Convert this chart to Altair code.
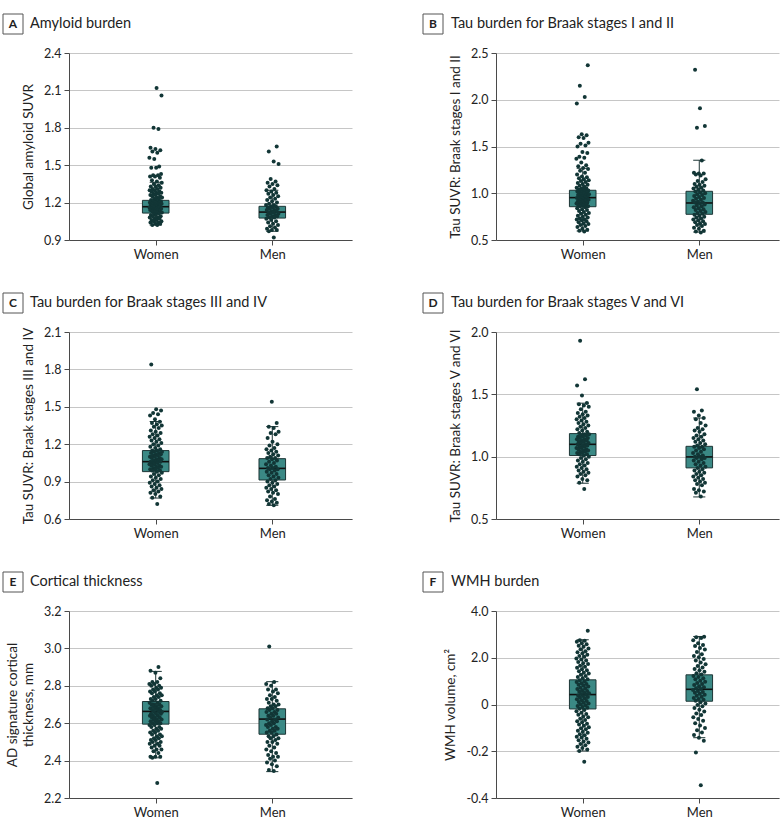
import altair as alt
import pandas as pd

# ---------------- data ----------------
categories = ["Women", "Men"]
letters = ["A", "B", "C", "D", "E", "F"]
titles = [
    "Amyloid burden",
    "Tau burden for Braak stages I and II",
    "Tau burden for Braak stages III and IV",
    "Tau burden for Braak stages V and VI",
    "Cortical thickness",
    "WMH burden",
]
y_titles = [
    "Global amyloid SUVR",
    "Tau SUVR: Braak stages I and II",
    "Tau SUVR: Braak stages III and IV",
    "Tau SUVR: Braak stages V and VI",
    ["AD signature cortical", "thickness, mm"],
    "WMH volume, cm²",
]
y_domains = [[0.9, 2.4], [0.5, 2.5], [0.6, 2.1], [0.5, 2.0], [2.2, 3.2], [-4, 4]]
y_ticks = [
    [0.9, 1.2, 1.5, 1.8, 2.1, 2.4],
    [0.5, 1.0, 1.5, 2.0, 2.5],
    [0.6, 0.9, 1.2, 1.5, 1.8, 2.1],
    [0.5, 1.0, 1.5, 2.0],
    [2.2, 2.4, 2.6, 2.8, 3.0, 3.2],
    [-4, -2, 0, 2, 4],
]
f_tick_labels = ["-0.4", "-0.2", "0", "2.0", "4.0"]

# box stats: [lower whisker, Q1, median, Q3, upper whisker]
a_stats_women = [1.02, 1.116, 1.167, 1.218, 1.363]
a_stats_men = [0.97, 1.076, 1.124, 1.170, 1.299]
b_stats_women = [0.596, 0.856, 0.953, 1.032, 1.267]
b_stats_men = [0.585, 0.775, 0.896, 1.021, 1.353]
c_stats_women = [0.768, 0.980, 1.060, 1.149, 1.382]
c_stats_men = [0.710, 0.913, 1.006, 1.084, 1.341]
d_stats_women = [0.787, 1.009, 1.099, 1.185, 1.429]
d_stats_men = [0.677, 0.910, 0.998, 1.083, 1.310]
e_stats_women = [2.415, 2.595, 2.663, 2.716, 2.877]
e_stats_men = [2.341, 2.541, 2.622, 2.677, 2.822]
f_stats_women = [-1.99, -0.19, 0.425, 1.056, 2.77]
f_stats_men = [-1.42, 0.14, 0.65, 1.27, 2.91]

a_women = [2.12, 2.06, 1.80, 1.79, 1.64, 1.63, 1.62, 1.61, 1.60, 1.56, 1.55, 1.49, 1.48, 1.48,
           1.43, 1.42, 1.42, 1.41, 1.41, 1.40, 1.38, 1.37,
           1.36, 1.35, 1.34, 1.33, 1.33, 1.32, 1.31, 1.31, 1.30, 1.30, 1.29, 1.29, 1.28, 1.28,
           1.27, 1.27, 1.26, 1.26, 1.25, 1.25, 1.24, 1.24, 1.23, 1.23, 1.22,
           1.22, 1.21, 1.21, 1.21, 1.20, 1.20, 1.20, 1.19, 1.19, 1.19, 1.18, 1.18, 1.18, 1.17,
           1.17, 1.17, 1.17, 1.16, 1.16, 1.16, 1.15, 1.15, 1.15, 1.14, 1.14, 1.14, 1.13, 1.13,
           1.13, 1.12, 1.12, 1.11, 1.11, 1.10, 1.10, 1.09, 1.09, 1.08, 1.08, 1.07, 1.07, 1.06,
           1.06, 1.05, 1.05, 1.04, 1.04, 1.03, 1.03, 1.02, 1.02]
a_men = [1.65, 1.61, 1.53, 1.51, 1.39, 1.37, 1.36, 1.35, 1.34, 1.33, 1.31, 1.30,
         1.29, 1.28, 1.27, 1.26, 1.25, 1.24, 1.23, 1.22, 1.21, 1.20, 1.19, 1.18, 1.18,
         1.17, 1.17, 1.16, 1.16, 1.15, 1.15, 1.14, 1.14, 1.13, 1.13, 1.12, 1.12, 1.11, 1.11,
         1.10, 1.10, 1.09, 1.09, 1.08, 1.08, 1.07, 1.06, 1.05, 1.04, 1.03, 1.02, 1.01, 1.00,
         0.99, 0.98, 0.98, 0.97, 0.92]
b_women = [2.37, 2.15, 2.03, 1.96, 1.63, 1.62, 1.60, 1.59, 1.54, 1.53, 1.51, 1.50, 1.44, 1.43,
           1.39, 1.38, 1.37, 1.33, 1.30, 1.29, 1.27,
           1.26, 1.24, 1.22, 1.20, 1.18, 1.17, 1.16, 1.15, 1.14, 1.13, 1.12, 1.11, 1.10, 1.09,
           1.08, 1.07, 1.06, 1.05, 1.05, 1.04, 1.04, 1.03,
           1.03, 1.02, 1.02, 1.01, 1.01, 1.00, 1.00, 0.99, 0.99, 0.98, 0.98, 0.97, 0.97, 0.96,
           0.96, 0.95, 0.95, 0.94, 0.94, 0.93, 0.93, 0.92, 0.92, 0.91, 0.91, 0.90, 0.90, 0.89,
           0.89, 0.88, 0.88, 0.87, 0.87, 0.86, 0.86,
           0.85, 0.84, 0.83, 0.82, 0.81, 0.80, 0.79, 0.78, 0.77, 0.76, 0.75, 0.74, 0.73, 0.72,
           0.72, 0.71, 0.70, 0.69, 0.68, 0.67, 0.66, 0.65, 0.64, 0.62, 0.61, 0.60, 0.59]
b_men = [2.32, 1.91, 1.72, 1.70,
         1.35, 1.22, 1.21, 1.21, 1.20, 1.19, 1.15, 1.13, 1.12, 1.10, 1.09, 1.08, 1.07, 1.06,
         1.05, 1.04, 1.03, 1.02,
         1.01, 1.00, 0.99, 0.98, 0.97, 0.96, 0.95, 0.94, 0.93, 0.92, 0.91, 0.90, 0.90, 0.89,
         0.88, 0.87, 0.86, 0.85, 0.84, 0.83, 0.82, 0.81, 0.80, 0.79, 0.78,
         0.77, 0.76, 0.75, 0.74, 0.73, 0.72, 0.71, 0.70, 0.69, 0.68, 0.67, 0.66, 0.65, 0.63,
         0.62, 0.60, 0.59, 0.58]
c_women = [1.84, 1.48, 1.47, 1.45, 1.44, 1.43, 1.40, 0.72,
           1.38, 1.37, 1.36, 1.35, 1.34, 1.33, 1.31, 1.30, 1.29, 1.28, 1.27, 1.26, 1.25, 1.24,
           1.23, 1.22, 1.21, 1.20, 1.19, 1.18, 1.17, 1.16, 1.15,
           1.15, 1.14, 1.14, 1.13, 1.13, 1.12, 1.12, 1.11, 1.11, 1.10, 1.10, 1.09, 1.09, 1.08,
           1.08, 1.07, 1.07, 1.06, 1.06, 1.06, 1.05, 1.05, 1.04, 1.04, 1.03, 1.03, 1.02, 1.02,
           1.01, 1.01, 1.00, 1.00, 0.99, 0.99, 0.98,
           0.97, 0.96, 0.95, 0.94, 0.93, 0.92, 0.91, 0.90, 0.89, 0.88, 0.87, 0.86, 0.85, 0.84,
           0.83, 0.82, 0.81, 0.80, 0.78, 0.77]
c_men = [1.54, 1.37,
         1.34, 1.33, 1.30, 1.29, 1.28, 1.25, 1.22, 1.20, 1.19, 1.17, 1.16, 1.15, 1.14, 1.13,
         1.12, 1.11, 1.10, 1.09,
         1.09, 1.08, 1.07, 1.06, 1.05, 1.04, 1.03, 1.02, 1.01, 1.01, 1.00, 1.00, 0.99, 0.98,
         0.97, 0.96, 0.95, 0.94, 0.93, 0.92,
         0.91, 0.90, 0.89, 0.88, 0.87, 0.86, 0.85, 0.84, 0.83, 0.82, 0.81, 0.80, 0.78, 0.76,
         0.75, 0.74, 0.73, 0.72, 0.71]
d_women = [1.93, 1.62, 1.57, 1.49, 0.74,
           1.43, 1.42, 1.41, 1.40, 1.38, 1.36, 1.35, 1.34, 1.33, 1.32, 1.31, 1.30, 1.29, 1.28,
           1.27, 1.26, 1.25, 1.24, 1.23, 1.22, 1.21, 1.20, 1.19, 1.18,
           1.18, 1.17, 1.17, 1.16, 1.16, 1.15, 1.15, 1.14, 1.14, 1.13, 1.13, 1.12, 1.12, 1.11,
           1.11, 1.10, 1.10, 1.09, 1.09, 1.08, 1.08, 1.07, 1.07, 1.06, 1.06, 1.05, 1.05, 1.04,
           1.04, 1.03, 1.03, 1.02, 1.02, 1.01,
           1.00, 0.99, 0.98, 0.97, 0.96, 0.95, 0.94, 0.93, 0.92, 0.91, 0.90, 0.89, 0.88, 0.87,
           0.86, 0.85, 0.84, 0.82, 0.81, 0.79]
d_men = [1.54, 1.37, 1.36, 1.33,
         1.31, 1.30, 1.27, 1.25, 1.23, 1.22, 1.21, 1.20, 1.18, 1.17, 1.16, 1.15, 1.14, 1.13,
         1.12, 1.11, 1.10, 1.09, 1.08,
         1.08, 1.07, 1.06, 1.05, 1.04, 1.03, 1.02, 1.01, 1.00, 1.00, 0.99, 0.99, 0.98, 0.97,
         0.96, 0.95, 0.94, 0.93, 0.92, 0.91,
         0.90, 0.89, 0.88, 0.87, 0.86, 0.85, 0.84, 0.83, 0.82, 0.81, 0.80, 0.79, 0.78, 0.77,
         0.74, 0.73, 0.72, 0.71, 0.68]
e_women = [2.90, 2.88, 2.28,
           2.87, 2.84, 2.82, 2.82, 2.81, 2.81, 2.80, 2.80, 2.79, 2.79, 2.78, 2.78, 2.77, 2.77,
           2.76, 2.76, 2.75, 2.75, 2.74, 2.74, 2.73, 2.73, 2.72, 2.72,
           2.71, 2.71, 2.70, 2.70, 2.70, 2.69, 2.69, 2.69, 2.68, 2.68, 2.68, 2.67, 2.67, 2.67,
           2.66, 2.66, 2.66, 2.65, 2.65, 2.65, 2.64, 2.64, 2.64, 2.63, 2.63, 2.63, 2.62, 2.62,
           2.62, 2.61, 2.61, 2.61, 2.60, 2.60, 2.60,
           2.59, 2.59, 2.58, 2.58, 2.57, 2.57, 2.56, 2.56, 2.55, 2.55, 2.54, 2.54, 2.53, 2.53,
           2.52, 2.52, 2.51, 2.51, 2.50, 2.50, 2.49, 2.49, 2.48, 2.48, 2.47, 2.46, 2.46, 2.45,
           2.44, 2.42, 2.42, 2.415, 2.42]
e_men = [3.01,
         2.82, 2.81, 2.80, 2.78, 2.78, 2.77, 2.76, 2.75, 2.74, 2.73, 2.73, 2.72, 2.71, 2.70,
         2.70, 2.69, 2.69, 2.68, 2.68,
         2.67, 2.67, 2.66, 2.66, 2.65, 2.65, 2.64, 2.64, 2.63, 2.63, 2.62, 2.62, 2.61, 2.61,
         2.60, 2.60, 2.59, 2.59, 2.58, 2.58, 2.57, 2.57, 2.56, 2.56, 2.55, 2.55, 2.54,
         2.53, 2.53, 2.52, 2.52, 2.51, 2.50, 2.50, 2.49, 2.48, 2.47, 2.46, 2.45, 2.44, 2.43,
         2.42, 2.42, 2.41, 2.40, 2.39, 2.38, 2.37, 2.35, 2.345]
f_women = [3.15, -2.45,
           2.75, 2.73, 2.68, 2.62, 2.58, 2.51, 2.47, 2.40, 2.36, 2.28, 2.24, 2.19, 2.13, 2.08,
           2.04, 1.97, 1.93, 1.88, 1.82, 1.77, 1.73, 1.66, 1.62, 1.57, 1.51, 1.47, 1.42, 1.36,
           1.33, 1.27, 1.22, 1.18, 1.12, 1.08,
           1.04, 1.00, 0.96, 0.91, 0.88, 0.84, 0.81, 0.77, 0.72, 0.70, 0.66, 0.61, 0.58, 0.55,
           0.51, 0.48, 0.45, 0.42, 0.39, 0.36, 0.32, 0.29, 0.26, 0.22, 0.18, 0.15, 0.11, 0.08,
           0.04, 0.01, -0.03, -0.06, -0.11, -0.14, -0.18,
           -0.24, -0.29, -0.35, -0.41, -0.44, -0.51, -0.55, -0.61, -0.66, -0.72, -0.76, -0.82,
           -0.86, -0.91, -0.97, -1.02, -1.06, -1.12, -1.17, -1.21, -1.27, -1.32, -1.38, -1.41,
           -1.47, -1.53, -1.58, -1.63, -1.69, -1.74, -1.81, -1.86, -1.92, -1.99]
f_men = [-2.05, -3.45, -1.55,
         2.90, 2.88, 2.85, 2.75, 2.62, 2.55, 2.50, 2.42, 2.35, 2.25, 2.15, 2.08, 2.02, 1.95,
         1.88, 1.80, 1.72, 1.65, 1.58, 1.52, 1.46, 1.40, 1.34, 1.28,
         1.22, 1.18, 1.12, 1.08, 1.02, 0.97, 0.92, 0.88, 0.83, 0.78, 0.74, 0.70, 0.66, 0.62,
         0.58, 0.54, 0.50, 0.46, 0.42, 0.37, 0.33, 0.28, 0.24, 0.20, 0.16,
         0.10, 0.04, -0.02, -0.08, -0.15, -0.22, -0.30, -0.38, -0.45, -0.55, -0.62, -0.70,
         -0.80, -0.90, -1.00, -1.10, -1.20, -1.30, -1.42]

points_w = [a_women, b_women, c_women, d_women, e_women, f_women]
points_m = [a_men, b_men, c_men, d_men, e_men, f_men]
stats_w = [a_stats_women, b_stats_women, c_stats_women, d_stats_women, e_stats_women, f_stats_women]
stats_m = [a_stats_men, b_stats_men, c_stats_men, d_stats_men, e_stats_men, f_stats_men]

# ---------------- style ----------------
FONT = "Lato"
W, H = 283, 187
XDOM = [-0.744, 1.684]
BOX_HALF = 0.114
CAP_HALF = 0.052
JIT = 0.11
BOX_FILL = "#3b8985"
EDGE = "#1d3535"
PT = "#123636"
AXIS_C = "#4a4a4a"
GRID_C = "#c6c6c6"
TXT = "#222222"

cat_js = "[" + ",".join("'%s'" % c for c in categories) + "]"


def panel(i):
    col = i % 2
    pts = pd.DataFrame({
        "sex": [categories[0]] * len(points_w[i]) + [categories[1]] * len(points_m[i]),
        "value": points_w[i] + points_m[i],
    })
    rows = []
    for s, st in ((categories[0], stats_w[i]), (categories[1], stats_m[i])):
        rows.append({"sex": s, "lo": st[0], "q1": st[1], "med": st[2], "q3": st[3], "hi": st[4]})
    stats = pd.DataFrame(rows)

    xscale = alt.Scale(domain=XDOM, nice=False, zero=False)
    yscale = alt.Scale(domain=y_domains[i], nice=False, zero=False)
    xaxis = alt.Axis(values=[0, 1], labelExpr=cat_js + "[datum.value]", grid=False, title=None,
                     tickSize=5, tickColor=AXIS_C, domainColor=AXIS_C, labelFontSize=13,
                     labelColor=TXT, labelPadding=3)
    yargs = dict(values=y_ticks[i], grid=True, gridColor=GRID_C, domainColor=AXIS_C,
                 tickColor=AXIS_C, tickSize=5, labelFontSize=12.5, labelColor=TXT, labelPadding=3,
                 title=y_titles[i], titleFontSize=13.5, titleFontWeight="normal", titleColor=TXT,
                 titlePadding=8, titleLineHeight=16.5)
    if i == 5:
        tick_js = "[" + ",".join(str(v) for v in y_ticks[i]) + "]"
        lab_js = "[" + ",".join("'%s'" % v for v in f_tick_labels) + "]"
        yargs["labelExpr"] = lab_js + "[indexof(" + tick_js + ", datum.value)]"
    else:
        yargs["format"] = ".1f"
    yaxis = alt.Axis(**yargs)

    def X(f):
        return alt.X(f, scale=xscale, axis=xaxis)

    def Y(f):
        return alt.Y(f, scale=yscale, axis=yaxis)

    base = alt.Chart(stats).transform_calculate(
        idx="indexof(%s, datum.sex)" % cat_js
    ).transform_calculate(
        bl="datum.idx - %f" % BOX_HALF, br="datum.idx + %f" % BOX_HALF,
        cl="datum.idx - %f" % CAP_HALF, cr="datum.idx + %f" % CAP_HALF,
    )
    whisk = base.mark_rule(color=EDGE, strokeWidth=1).encode(x=X("idx:Q"), y=Y("lo:Q"), y2="hi:Q")
    cap_lo = base.mark_rule(color=EDGE, strokeWidth=1).encode(x=X("cl:Q"), x2="cr:Q", y=Y("lo:Q"))
    cap_hi = base.mark_rule(color=EDGE, strokeWidth=1).encode(x=X("cl:Q"), x2="cr:Q", y=Y("hi:Q"))
    box = base.mark_rect(fill=BOX_FILL, stroke=EDGE, strokeWidth=1).encode(
        x=X("bl:Q"), x2="br:Q", y=Y("q1:Q"), y2="q3:Q")
    med = base.mark_rule(color="#101010", strokeWidth=1.6).encode(x=X("bl:Q"), x2="br:Q", y=Y("med:Q"))

    dots = alt.Chart(pts).transform_window(
        rn="row_number()", groupby=["sex"], sort=[alt.SortField("value")]
    ).transform_calculate(
        idx="indexof(%s, datum.sex)" % cat_js
    ).transform_calculate(
        jx="datum.idx + (((datum.rn * 0.6180339887) %% 1) - 0.5) * %f" % JIT
    ).mark_circle(size=16, color=PT, opacity=1).encode(x=X("jx:Q"), y=Y("value:Q"))

    bx0 = -66 if col == 0 else -73
    tx = -39 if col == 0 else -45
    deco = alt.Chart(alt.Data(values=[{"letter": letters[i], "title": titles[i]}]))
    lbox = deco.mark_rect(fill="white", stroke="#555555", strokeWidth=1).encode(
        x=alt.value(bx0), x2=alt.value(bx0 + 20), y=alt.value(-39), y2=alt.value(-19))
    ltext = deco.mark_text(fontWeight="bold", fontSize=12, align="center", baseline="middle",
                           color=TXT).encode(x=alt.value(bx0 + 10), y=alt.value(-29), text="letter:N")
    ttext = deco.mark_text(fontSize=14.5, align="left", baseline="middle", color=TXT).encode(
        x=alt.value(tx), y=alt.value(-29), text="title:N")

    return alt.layer(whisk, cap_lo, cap_hi, box, med, dots, lbox, ltext, ttext).properties(
        width=W, height=H, view=alt.ViewBackground(stroke="transparent"))


chart = alt.concat(
    *[panel(i) for i in range(6)], columns=2,
    spacing=alt.RowColnumber(row=92, column=144), bounds="flush",
).properties(
    padding={"left": 2, "top": 13, "right": 0, "bottom": 0}
).configure_view(stroke="transparent", strokeWidth=0).configure(font=FONT)

chart.save("out.html", embed_options={"renderer": "svg", "actions": False})
